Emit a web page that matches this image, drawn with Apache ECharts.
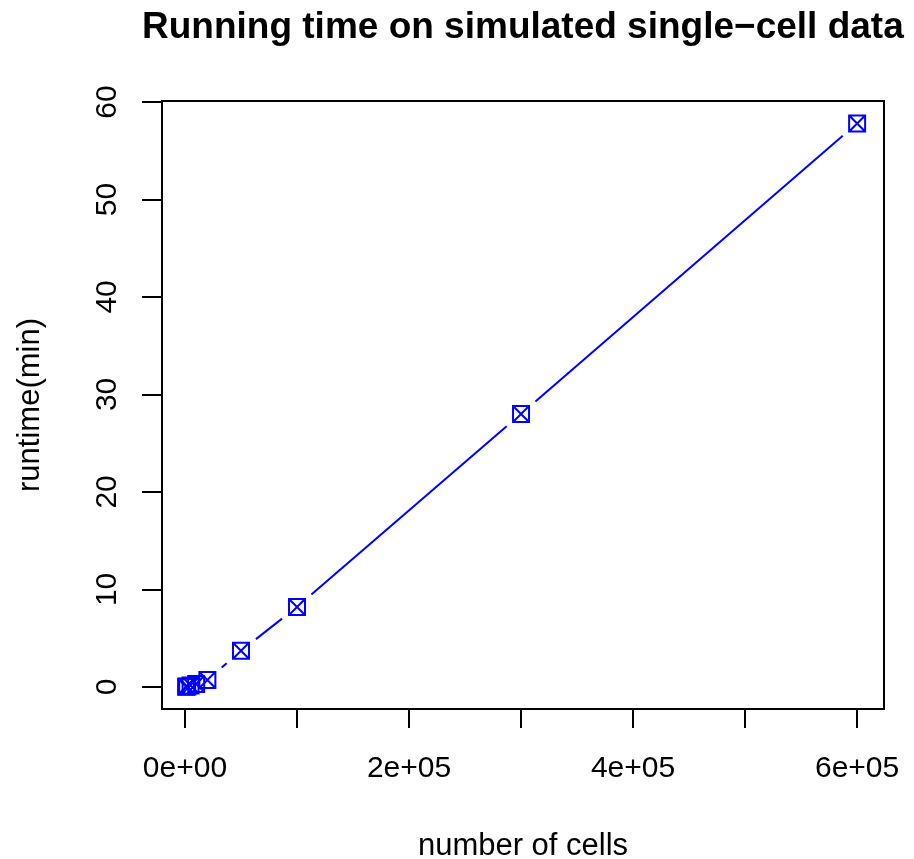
<!DOCTYPE html>
<html>
<head>
<meta charset="utf-8">
<script src="https://cdn.jsdelivr.net/npm/echarts@6/dist/echarts.min.js"></script>
<style>html,body{margin:0;padding:0;background:#fff}#c{width:914px;height:859px}</style>
</head>
<body>
<div id="c"></div>
<script>
const cells = [1000, 2000, 5000, 10000, 20000, 50000, 100000, 300000, 600000];
const runtime = [0.02, 0.05, 0.15, 0.3, 0.7, 3.7, 8.2, 28.0, 57.8];
const xTicks = [0, 100000, 200000, 300000, 400000, 500000, 600000];
const xLabels = [0, 200000, 400000, 600000];
const yTicks = [0, 10, 20, 30, 40, 50, 60];
const titleText = 'Running time on simulated single\u2212cell data';
const xName = 'number of cells';
const yName = 'runtime(min)';

const FONT = '"Liberation Sans", Arial, Helvetica, sans-serif';
const BLUE = '#0000ff';

function sci(v) {
  if (v === 0) return '0e+00';
  const e = Math.floor(Math.log10(Math.abs(v)));
  const m = Math.round(v / Math.pow(10, e));
  return m + 'e' + (e >= 0 ? '+' : '-') + String(Math.abs(e)).padStart(2, '0');
}

const points = cells.map((c, i) => [c, runtime[i]]);
const segs = [];
for (let i = 0; i < points.length - 1; i++) {
  segs.push([points[i][0], points[i][1], points[i + 1][0], points[i + 1][1]]);
}

const GAP = 19;
const chart = echarts.init(document.getElementById('c'), null, { renderer: 'canvas' });
chart.setOption({
  backgroundColor: '#fff',
  animation: false,
  title: {
    text: titleText,
    left: 137,
    top: 4,
    textStyle: { fontFamily: FONT, fontSize: 37, fontWeight: 'bold', color: '#000' }
  },
  grid: {
    left: 162, top: 101, width: 722, height: 608,
    outerBoundsMode: 'none',
    containLabel: false,
    show: true, borderColor: '#000', borderWidth: 2, backgroundColor: 'transparent'
  },
  xAxis: {
    type: 'value',
    min: -20500,
    max: 624000,
    splitLine: { show: false },
    axisLine: { show: false, onZero: false },
    axisTick: { show: true, length: 19, inside: false, customValues: xTicks, lineStyle: { color: '#000', width: 2 } },
    axisLabel: {
      customValues: xLabels,
      formatter: sci,
      margin: 45,
      fontFamily: FONT, fontSize: 30, color: '#000'
    },
    name: xName,
    nameLocation: 'middle',
    nameGap: 122,
    nameTextStyle: { fontFamily: FONT, fontSize: 31, color: '#000' }
  },
  yAxis: {
    type: 'value',
    min: -2.27,
    max: 60.1,
    splitLine: { show: false },
    axisLine: { show: false, onZero: false },
    axisTick: { show: true, length: 20, inside: false, customValues: yTicks, lineStyle: { color: '#000', width: 2 } },
    axisLabel: {
      customValues: yTicks,
      rotate: 90,
      margin: 39,
      fontFamily: FONT, fontSize: 30, color: '#000'
    },
    name: yName,
    nameLocation: 'middle',
    nameGap: 116,
    nameTextStyle: { fontFamily: FONT, fontSize: 31, color: '#000' }
  },
  series: [
    {
      type: 'custom',
      data: segs,
      silent: true,
      renderItem: function (params, api) {
        const p1 = api.coord([api.value(0), api.value(1)]);
        const p2 = api.coord([api.value(2), api.value(3)]);
        const dx = p2[0] - p1[0], dy = p2[1] - p1[1];
        const d = Math.sqrt(dx * dx + dy * dy);
        if (d <= 2 * GAP) return null;
        const ux = dx / d, uy = dy / d;
        return {
          type: 'line',
          shape: { x1: p1[0] + ux * GAP, y1: p1[1] + uy * GAP, x2: p2[0] - ux * GAP, y2: p2[1] - uy * GAP },
          style: { stroke: BLUE, lineWidth: 2 }
        };
      }
    },
    {
      type: 'scatter',
      data: points,
      symbol: 'path://M0 0H10V10H0ZM0 0L10 10M10 0L0 10',
      symbolSize: 16,
      itemStyle: { color: 'rgba(0,0,0,0)', borderColor: BLUE, borderWidth: 2, opacity: 1 }
    }
  ]
});
</script>
</body>
</html>
